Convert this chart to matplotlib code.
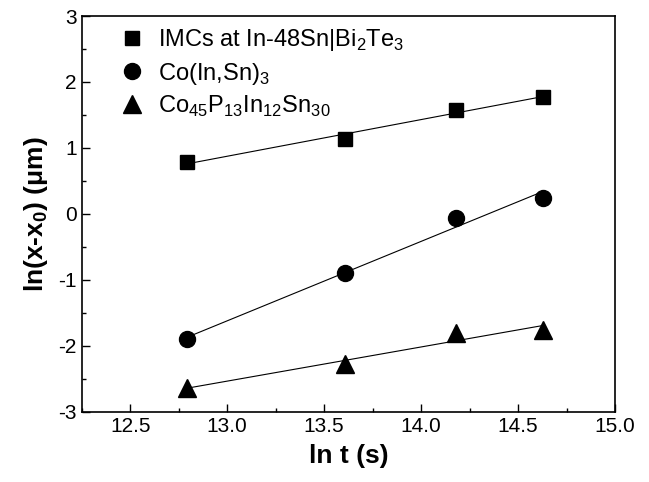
import numpy as np
import matplotlib
matplotlib.use("Agg")
import matplotlib.pyplot as plt
from matplotlib.lines import Line2D
from matplotlib.ticker import MultipleLocator

plt.rcParams['font.family'] = ['Liberation Sans', 'DejaVu Sans']
plt.rcParams['mathtext.fontset'] = 'custom'
plt.rcParams['mathtext.rm'] = 'Liberation Sans'
plt.rcParams['mathtext.bf'] = 'Liberation Sans:bold'
plt.rcParams['axes.unicode_minus'] = False

ln_t = [12.795, 13.606, 14.18, 14.628]
imc = [0.79, 1.135, 1.575, 1.777]
co_in_sn = [-1.90, -0.90, -0.06, 0.235]
co_p_in_sn = [-2.645, -2.27, -1.81, -1.76]

labels = ["IMCs at In-48Sn|Bi$_2$Te$_3$",
          "Co(In,Sn)$_3$",
          "Co$_{45}$P$_{13}$In$_{12}$Sn$_{30}$"]
markers = ['s', 'o', '^']
msizes = [10, 11.5, 12.5]

fig = plt.figure(figsize=(6.49, 4.82), dpi=100)
ax = fig.add_axes([0.1259, 0.1459, 0.8217, 0.8209])

x = np.array(ln_t)
handles = []
for y, m, ms, lab in zip([imc, co_in_sn, co_p_in_sn], markers, msizes, labels):
    y = np.array(y)
    p = np.polyfit(x, y, 1)
    ax.plot(x, np.polyval(p, x), color='black', lw=0.8, zorder=2)
    ax.plot(x, y, linestyle='none', marker=m, ms=ms, color='black', zorder=3)
    handles.append(Line2D([], [], linestyle='none', marker=m, ms=ms, color='black', label=lab))

ax.set_xlim(12.25, 15.0)
ax.set_ylim(-3, 3)
ax.xaxis.set_major_locator(MultipleLocator(0.5))
ax.xaxis.set_minor_locator(MultipleLocator(0.25))
ax.yaxis.set_major_locator(MultipleLocator(1))
ax.yaxis.set_minor_locator(MultipleLocator(0.5))
ax.xaxis.set_major_formatter(matplotlib.ticker.FormatStrFormatter('%.1f'))
ax.tick_params(which='both', direction='in', top=False, right=False, labelsize=15, width=1.0)
ax.tick_params(which='major', length=6)
ax.tick_params(which='minor', length=3)
for s in ax.spines.values():
    s.set_linewidth(1.2)

ax.set_xlabel("ln t (s)", fontsize=19, fontweight='bold', labelpad=6)
ax.set_ylabel(r"ln(x-x$_\mathbf{0}$) ($\mathbf{\mu}$m)", fontsize=19, fontweight='bold', labelpad=6)

leg = ax.legend(handles=handles, loc='upper left', frameon=False, fontsize=17,
                bbox_to_anchor=(0.055, 0.995), handletextpad=0.6, labelspacing=0.3,
                handlelength=1.0, borderaxespad=0.0)

fig.savefig("out.png", dpi=100)
